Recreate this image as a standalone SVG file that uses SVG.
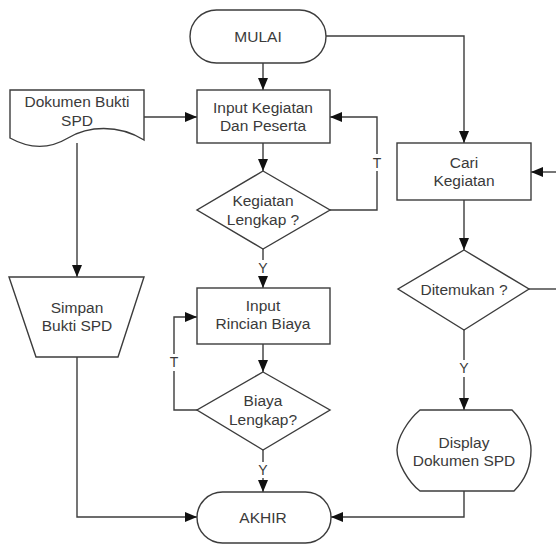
<svg xmlns="http://www.w3.org/2000/svg" width="556" height="545" viewBox="0 0 556 545">
<defs>
<style>
.s{fill:#fff;stroke:#3c3c3c;stroke-width:1.4}
.c{fill:none;stroke:#3c3c3c;stroke-width:1.4}
.t{font-family:"Liberation Sans",Arial,sans-serif;font-size:15.5px;fill:#3a3a3a;text-anchor:middle}
.l{font-family:"Liberation Sans",Arial,sans-serif;font-size:14px;fill:#3a3a3a;text-anchor:middle}
</style>
<marker id="a" markerUnits="userSpaceOnUse" markerWidth="12" markerHeight="10" refX="12" refY="5" orient="auto">
<path d="M0,0 L12,5 L0,10 Z" fill="#111"/>
</marker>
</defs>
<rect width="556" height="545" fill="#fff"/>
<g id="connectors">
<path class="c" d="M263,63 V90" marker-end="url(#a)"/>
<path class="c" d="M326,36 H464 V143" marker-end="url(#a)"/>
<path class="c" d="M144,117 H197" marker-end="url(#a)"/>
<path class="c" d="M77,143 V277" marker-end="url(#a)"/>
<path class="c" d="M263,143 V171" marker-end="url(#a)"/>
<path class="c" d="M330,210 H377 V171"/>
<path class="c" d="M377,154 V117 H330" marker-end="url(#a)"/>
<path class="c" d="M263,249 V260"/>
<path class="c" d="M263,276 V288" marker-end="url(#a)"/>
<path class="c" d="M263,344 V372" marker-end="url(#a)"/>
<path class="c" d="M197,410 H174 V371"/>
<path class="c" d="M174,354 V317 H197" marker-end="url(#a)"/>
<path class="c" d="M263,450 V462"/>
<path class="c" d="M263,478 V492" marker-end="url(#a)"/>
<path class="c" d="M77,357 V517 H197" marker-end="url(#a)"/>
<path class="c" d="M464,491 V517 H331" marker-end="url(#a)"/>
<path class="c" d="M464,200 V250" marker-end="url(#a)"/>
<path class="c" d="M464,330 V360"/>
<path class="c" d="M464,377 V410" marker-end="url(#a)"/>
<path class="c" d="M529,289 H556"/>
<path class="c" d="M556,172 H531" marker-end="url(#a)"/>
<text class="l" x="377" y="168">T</text>
<text class="l" x="174" y="367">T</text>
<text class="l" x="263" y="273">Y</text>
<text class="l" x="263" y="475">Y</text>
<text class="l" x="464" y="373">Y</text>
</g>
<g id="mulai">
<rect class="s" x="190" y="10" width="136" height="53" rx="26.5"/>
<text class="t" x="258" y="41.5">MULAI</text>
</g>
<g id="dokumen">
<path class="s" d="M10,90 H144 V140 C118,124 88,126 68,138 C48,150 28,148 10,138 Z"/>
<text class="t" x="77" y="106.5">Dokumen Bukti</text>
<text class="t" x="77" y="126">SPD</text>
</g>
<g id="input-kegiatan">
<rect class="s" x="197" y="90" width="133" height="53"/>
<text class="t" x="263" y="112.5">Input Kegiatan</text>
<text class="t" x="263" y="130.5">Dan Peserta</text>
</g>
<g id="kegiatan-lengkap">
<path class="s" d="M263,171 L330,210 L263,249 L197,210 Z"/>
<text class="t" x="263" y="206">Kegiatan</text>
<text class="t" x="263" y="224.5">Lengkap ?</text>
</g>
<g id="input-rincian">
<rect class="s" x="197" y="288" width="133" height="56"/>
<text class="t" x="263" y="310.5">Input</text>
<text class="t" x="263" y="329">Rincian Biaya</text>
</g>
<g id="biaya-lengkap">
<path class="s" d="M263,372 L330,410 L263,450 L197,410 Z"/>
<text class="t" x="263" y="406">Biaya</text>
<text class="t" x="263" y="424.5">Lengkap?</text>
</g>
<g id="akhir">
<rect class="s" x="197" y="492" width="134" height="51" rx="25.5"/>
<text class="t" x="263" y="522.5">AKHIR</text>
</g>
<g id="simpan">
<path class="s" d="M9,277 H144 L118,357 H36 Z"/>
<text class="t" x="77" y="312.5">Simpan</text>
<text class="t" x="77" y="330.5">Bukti SPD</text>
</g>
<g id="cari">
<rect class="s" x="397" y="143" width="134" height="57"/>
<text class="t" x="464" y="167.5">Cari</text>
<text class="t" x="464" y="185.5">Kegiatan</text>
</g>
<g id="ditemukan">
<path class="s" d="M464,250 L529,289 L464,330 L398,289 Z"/>
<text class="t" x="464" y="294.5">Ditemukan ?</text>
</g>
<g id="display">
<path class="s" d="M420,410 H512 C526,424 531,440 531,450 C531,464 526,479 514,491 H420 C408,482 397,462 397,450 C397,438 408,420 420,410 Z"/>
<text class="t" x="464" y="447.5">Display</text>
<text class="t" x="464" y="465.5">Dokumen SPD</text>
</g>
</svg>
